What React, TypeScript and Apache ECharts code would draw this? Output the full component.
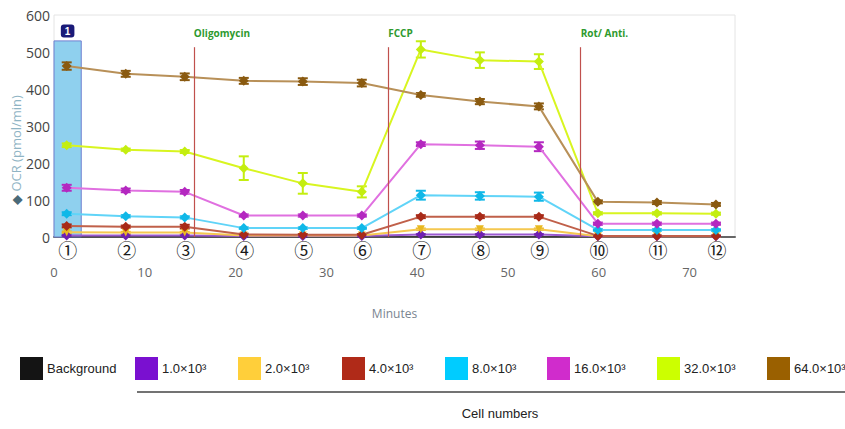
import React, { useEffect, useRef } from "react";
import * as echarts from "echarts";

// measurement times (minutes) and their circled labels
const times = [1.4, 7.9, 14.4, 20.9, 27.4, 33.9, 40.4, 46.9, 53.4, 59.9, 66.4, 72.9];
const measureLabels = ["①", "②", "③", "④", "⑤", "⑥", "⑦", "⑧", "⑨", "⑩", "⑪", "⑫"];

// injections
const injectionTimes = [15.4, 36.8, 58.0];
const injectionNames = ["Oligomycin", "FCCP", "Rot/ Anti."];

// highlighted measurement 1
const highlightRange = [0, 3.0];
const highlightTop = 530;

// series names (cell numbers)
const seriesNames = ["Background", "1.0×10³", "2.0×10³", "4.0×10³", "8.0×10³", "16.0×10³", "32.0×10³", "64.0×10³"];

// OCR values (pmol/min)
const ocrBackground = [0, 0, 0, 0, 0, 0, 0, 0, 0, 0, 0, 0];
const ocr1k = [4, 4, 4, 3, 3, 3, 7, 7, 7, 2, 2, 2];
const ocr2k = [13, 12, 12, 4, 4, 4, 21, 21, 21, 2, 2, 2];
const ocr4k = [30, 28, 28, 7, 6, 6, 55, 55, 55, 3, 3, 3];
const ocr8k = [63, 56, 53, 24, 24, 24, 113, 111, 109, 19, 19, 19];
const ocr16k = [133, 126, 122, 58, 58, 58, 251, 248, 244, 36, 36, 36];
const ocr32k = [248, 236, 231, 186, 145, 122, 507, 478, 474, 64, 64, 63];
const ocr64k = [462, 441, 433, 422, 420, 416, 384, 366, 353, 95, 93, 88];

// error (± pmol/min)
const errBackground = [0, 0, 0, 0, 0, 0, 0, 0, 0, 0, 0, 0];
const err1k = [1, 1, 1, 1, 1, 1, 1, 1, 1, 1, 1, 1];
const err2k = [2, 2, 2, 1, 1, 1, 2, 2, 2, 1, 1, 1];
const err4k = [4, 3, 5, 2, 2, 2, 4, 4, 4, 1, 1, 1];
const err8k = [4, 3, 3, 2, 2, 2, 12, 10, 11, 2, 2, 2];
const err16k = [8, 5, 5, 3, 3, 3, 5, 10, 12, 3, 3, 3];
const err32k = [5, 3, 4, 32, 28, 15, 22, 21, 20, 3, 3, 3];
const err64k = [10, 8, 9, 8, 9, 9, 5, 7, 8, 4, 4, 4];

const allValues = [ocrBackground, ocr1k, ocr2k, ocr4k, ocr8k, ocr16k, ocr32k, ocr64k];
const allErrors = [errBackground, err1k, err2k, err4k, err8k, err16k, err32k, err64k];

const legendColors = ["#141414", "#7a10d0", "#ffcf3a", "#b02a18", "#00ccff", "#d02ccc", "#ccff00", "#9a6000"];
const lineColors = ["#141414", "#9b59d0", "#f5c850", "#c0604a", "#60d4f8", "#e070e0", "#d8f520", "#b89058"];
const markerColors = ["#141414", "#7020b0", "#e8b820", "#a82a18", "#10b8e8", "#b428c0", "#c4ee10", "#8a5a10"];
const legendLefts = [20, 135, 238, 342, 445, 547, 657, 767];

export default function App() {
  const ref = useRef<HTMLDivElement>(null);
  useEffect(() => {
    document.body.style.margin = "0";
    const chart = echarts.init(ref.current!, null, { renderer: "svg" });

    const series: any[] = [];
    allValues.forEach((vals, si) => {
      const s: any = {
        name: seriesNames[si],
        type: "line",
        data: times.map((t, i) => [t, vals[i]]),
        showSymbol: si !== 0,
        symbol: si === 2 ? "triangle" : "diamond",
        symbolRotate: si === 2 ? 180 : 0,
        symbolSize: si === 2 ? 8 : 10,
        lineStyle: { color: lineColors[si], width: si === 0 ? 1 : 2 },
        itemStyle: { color: markerColors[si] },
        z: 3,
      };
      if (si === 0) {
        s.markArea = {
          silent: true,
          itemStyle: { color: "#8fd0ee", borderColor: "#6f7fd0", borderWidth: 1 },
          label: {
            show: true,
            position: "top",
            distance: 3,
            formatter: "1",
            color: "#ffffff",
            fontWeight: "bold",
            fontSize: 10,
            backgroundColor: "#1a1a78",
            padding: [2, 4, 1, 4],
            borderRadius: 3,
          },
          data: [[{ xAxis: highlightRange[0], yAxis: 0 }, { xAxis: highlightRange[1], yAxis: highlightTop }]],
        };
        s.markLine = {
          silent: true,
          symbol: ["none", "none"],
          lineStyle: { color: "#c0504d", width: 1.2, type: "solid" },
          label: { show: false },
          data: injectionTimes.map((t) => [{ coord: [t, 0] }, { coord: [t, 513] }]),
        };
        s.markPoint = {
          silent: true,
          symbol: "rect",
          symbolSize: 0,
          data: injectionTimes.map((t, i) => ({
            coord: [t, 552],
            label: {
              show: true,
              formatter: injectionNames[i],
              position: "right",
              distance: 0,
              color: "#2e9a2e",
              fontWeight: "bold",
              fontSize: 10,
              fontFamily: "Open Sans",
            },
          })),
        };
      }
      series.push(s);
      if (si > 0) {
        series.push({
          name: "err " + seriesNames[si],
          type: "custom",
          z: 3,
          silent: true,
          data: times.map((t, i) => [t, vals[i], allErrors[si][i]]),
          renderItem: (_p: any, api: any) => {
            const t = api.value(0);
            const v = api.value(1);
            const e = api.value(2);
            const top = api.coord([t, v + e]);
            const bot = api.coord([t, Math.max(0, v - e)]);
            const hw = 5;
            const style = { stroke: markerColors[si], lineWidth: 2 };
            return {
              type: "group",
              children: [
                { type: "line", shape: { x1: top[0], y1: top[1], x2: bot[0], y2: bot[1] }, style },
                { type: "line", shape: { x1: top[0] - hw, y1: top[1], x2: top[0] + hw, y2: top[1] }, style },
                { type: "line", shape: { x1: bot[0] - hw, y1: bot[1], x2: bot[0] + hw, y2: bot[1] }, style },
              ],
            };
          },
        });
      }
    });

    series.push({
      name: "measurements",
      type: "custom",
      clip: false,
      silent: true,
      data: times.map((t, i) => [t, 0, i]),
      renderItem: (_p: any, api: any) => {
        const pt = api.coord([api.value(0), 0]);
        return {
          type: "text",
          x: pt[0] + 1,
          y: pt[1] + 12,
          style: {
            text: measureLabels[api.value(2)],
            fontSize: 19,
            fill: "#1a1a1a",
            align: "center",
            verticalAlign: "middle",
            fontFamily: "Noto Sans CJK JP",
          },
        };
      },
    });

    chart.setOption({
      animation: false,
      grid: {
        left: 54,
        top: 15,
        right: 110,
        bottom: 192,
        show: true,
        borderColor: "#e4e4e4",
        borderWidth: 1,
      },
      xAxis: {
        type: "value",
        min: 0,
        max: 75,
        interval: 10,
        name: "Minutes",
        nameLocation: "middle",
        nameGap: 70,
        nameTextStyle: { color: "#7a8590", fontSize: 12, fontFamily: "Open Sans" },
        axisLine: { show: true, lineStyle: { color: "#666", width: 2 } },
        axisTick: { show: false },
        splitLine: { show: false },
        axisLabel: {
          margin: 28,
          color: "#666",
          fontSize: 13,
          fontFamily: "Open Sans",
          showMaxLabel: false,
        },
      },
      yAxis: {
        type: "value",
        min: 0,
        max: 600,
        interval: 100,
        axisLine: { show: false },
        axisTick: { show: false },
        splitLine: { show: false },
        axisLabel: { margin: 4, color: "#444", fontSize: 14, fontFamily: "Open Sans" },
      },
      legend: seriesNames.map((n, i) => ({
        data: [{ name: n, itemStyle: { color: legendColors[i] } }],
        left: legendLefts[i],
        top: 357,
        padding: 0,
        icon: "rect",
        itemWidth: 23,
        itemHeight: 23,
        selectedMode: false,
        textStyle: { color: "#222", fontSize: 13, fontFamily: "Liberation Sans", padding: [0, 0, 0, -1] },
      })),
      graphic: [
        {
          type: "text",
          x: 16,
          y: 150,
          rotation: Math.PI / 2,
          style: {
            text: "{d|◆} {t|OCR (pmol/min)}",
            align: "center",
            verticalAlign: "middle",
            rich: {
              d: { fill: "#4a6a78", fontSize: 13, fontFamily: "DejaVu Sans" },
              t: { fill: "#8fb4c4", fontSize: 13, fontFamily: "Open Sans" },
            },
          },
        },
        {
          type: "line",
          shape: { x1: 137, y1: 392, x2: 845, y2: 392 },
          style: { stroke: "#444", lineWidth: 1.5 },
        },
        {
          type: "text",
          x: 500,
          y: 413,
          style: {
            text: "Cell numbers",
            align: "center",
            verticalAlign: "middle",
            fill: "#222",
            fontSize: 13,
            fontFamily: "Liberation Sans",
          },
        },
      ],
      series,
    });
    return () => chart.dispose();
  }, []);
  return <div ref={ref} style={{ width: 845, height: 429 }} />;
}
